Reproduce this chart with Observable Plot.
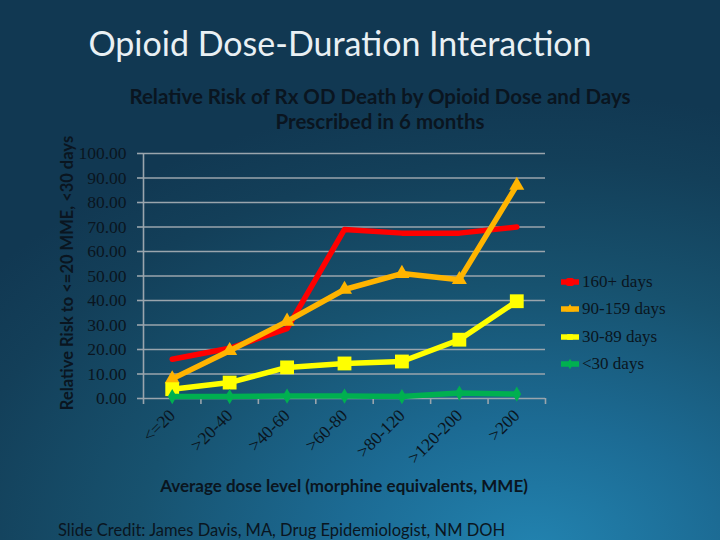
<!DOCTYPE html>
<html>
<head>
<meta charset="utf-8">
<script src="https://cdn.jsdelivr.net/npm/d3@7"></script>
<script src="https://cdn.jsdelivr.net/npm/@observablehq/plot@0.6"></script>
<style>
  html, body { margin: 0; padding: 0; }
  #slide {
    position: relative; width: 720px; height: 540px; overflow: hidden;
    background: radial-gradient(ellipse 95% 85% at 74% 102%, #2283b0 0%, #1c6b94 28%, #17526f 58%, #133f59 85%, #113852 100%);
    font-family: Lato, "Open Sans", sans-serif; color: #0a1520;
  }
  .abs { position: absolute; white-space: nowrap; }
  #title { left: 0; width: 680px; text-align: center; top: 22px; font-size: 34px; color: #e9f0f4; }
  #subtitle { left: 118px; width: 524px; text-align: center; top: 84px; font-size: 20.5px; font-weight: bold; line-height: 24.5px; }
  #ylabel { left: 67px; top: 273px; font-size: 16.5px; font-weight: bold; transform: translate(-50%, -50%) rotate(-90deg); }
  #xlabel { left: 344px; top: 475px; transform: translateX(-50%); font-size: 17px; font-weight: bold; }
  #caption { left: 58px; top: 520px; font-size: 16.5px; }
  #legend { left: 560px; top: 268px; font-family: "Liberation Serif", serif; font-size: 17px; }
  .item { display: flex; align-items: center; height: 27.5px; }
  .item svg { margin-right: 2px; }
  #chart { position: absolute; left: 0; top: 0; }
</style>
</head>
<body>
<div id="slide">
  <div id="chart"></div>
  <div class="abs" id="title">Opioid Dose-Duration Interaction</div>
  <div class="abs" id="subtitle">Relative Risk of Rx OD Death by Opioid Dose and Days<br>Prescribed in 6 months</div>
  <div class="abs" id="ylabel">Relative Risk to &lt;=20 MME, &lt;30 days</div>
  <div class="abs" id="xlabel">Average dose level (morphine equivalents, MME)</div>
  <div class="abs" id="caption">Slide Credit: James Davis, MA, Drug Epidemiologist, NM DOH</div>
  <div class="abs" id="legend"></div>
</div>
<script>
// ---- Data ----
const categories = ["<=20", ">20-40", ">40-60", ">60-80", ">80-120", ">120-200", ">200"];
const seriesNames = ["160+ days", "90-159 days", "30-89 days", "<30 days"];
const rr160 = [16.0, 20.5, 28.5, 69.0, 67.5, 67.5, 70.0];
const rr90  = [8.0, 19.5, 31.5, 44.5, 51.0, 48.5, 87.0];
const rr30  = [3.8, 6.5, 12.7, 14.3, 15.1, 24.0, 39.7];
const rrLt30 = [0.8, 0.8, 1.0, 1.0, 0.8, 2.2, 1.8];
const yTicks = [0, 10, 20, 30, 40, 50, 60, 70, 80, 90, 100];

// ---- Styles ----
const colors = ["#ff0000", "#ffb400", "#ffff00", "#00b050"];
const symbols = [null, "triangle", "square", "diamond"];
const radii = [0, 5.6, 7.8, 4.6];
const gridColor = "#9aa5ad";

const allValues = [rr160, rr90, rr30, rrLt30];
const tidy = allValues.map((vals, s) =>
  vals.map((v, i) => ({cat: i + 0.5, value: v, series: seriesNames[s]})));

const marks = [
  Plot.gridY(yTicks.filter(t => t > 0), {stroke: gridColor, strokeOpacity: 1, strokeWidth: 1.6}),
  Plot.axisY({ticks: yTicks, tickFormat: d3.format(".2f"), tickSize: 6, tickPadding: 11,
    stroke: gridColor, strokeWidth: 1.6, fill: "#0a1520", fontSize: 17.5, label: null}),
  Plot.axisX({ticks: d3.range(0, categories.length + 1), tickFormat: () => "", tickSize: 6,
    stroke: gridColor, strokeWidth: 1.6, label: null}),
  Plot.axisX({ticks: categories.map((c, i) => i + 0.5), tickFormat: v => categories[Math.floor(v)],
    tickSize: 0, tickPadding: 14, tickRotate: -45, fill: "#0a1520", fontSize: 17.5, label: null}),
  Plot.ruleY([0], {stroke: gridColor, strokeWidth: 1.6}),
  Plot.ruleX([0], {stroke: gridColor, strokeWidth: 1.6})
];
tidy.forEach((d, s) => {
  marks.push(Plot.line(d, {x: "cat", y: "value", stroke: colors[s], strokeWidth: 5.5}));
  if (symbols[s]) marks.push(Plot.dot(d, {x: "cat", y: "value", fill: colors[s], stroke: "none",
    symbol: () => symbols[s], r: radii[s]}));
});

const chart = Plot.plot({
  width: 720, height: 540,
  marginLeft: 143, marginRight: 175, marginTop: 153, marginBottom: 142,
  x: {type: "linear", domain: [0, categories.length], axis: null},
  y: {type: "linear", domain: [0, 100], axis: null},
  style: {background: "transparent", fontFamily: "'Liberation Serif', serif", color: "#0a1520", overflow: "visible"},
  marks
});
document.getElementById("chart").appendChild(chart);

// ---- Legend ----
const legend = d3.select("#legend");
seriesNames.forEach((name, s) => {
  const item = legend.append("div").attr("class", "item");
  const svg = item.append("svg").attr("width", 20).attr("height", 14);
  svg.append("line").attr("x1", 1).attr("x2", 19).attr("y1", 7).attr("y2", 7)
    .attr("stroke", colors[s]).attr("stroke-width", 5.5);
  if (symbols[s]) {
    const sym = {triangle: d3.symbolTriangle, square: d3.symbolSquare, diamond: d3.symbolDiamond}[symbols[s]];
    svg.append("path").attr("transform", "translate(10,7)")
      .attr("d", d3.symbol(sym, Math.PI * 3.2 * 3.2)()).attr("fill", colors[s]);
  } else {
    svg.append("rect").attr("x", 6).attr("y", 3).attr("width", 8).attr("height", 8).attr("rx", 2).attr("fill", colors[s]);
  }
  item.append("span").text(name);
});
</script>
</body>
</html>
